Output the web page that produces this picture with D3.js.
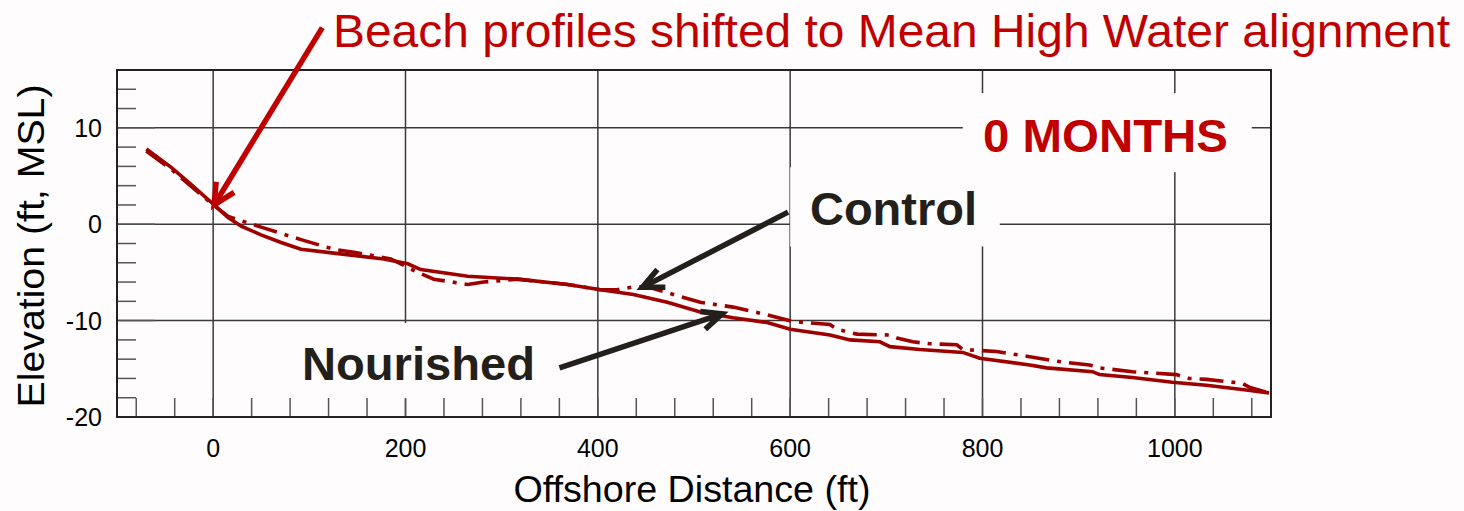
<!DOCTYPE html>
<html>
<head>
<meta charset="utf-8">
<script src="https://cdn.jsdelivr.net/npm/d3@7"></script>
<style>
  body { margin:0; background:#fefcfd; }
  text { font-family: "Liberation Sans", Arial, sans-serif; }
</style>
</head>
<body>
<svg id="chart" width="1464" height="511"></svg>
<script>
// profile data (ft offshore, ft MSL)
var nourishedDist = [-69.5,-43.6,-22.8,0,15.6,29.1,49.8,70.6,91.3,125.6,177.5,202.4,215.9,264.7,316.6,368.5,402.7,437,472.2,506.5,540.7,576,600,641.4,662.2,693.3,703.7,734.8,779.5,797.1,849,866.6,914.4,921.6,955.9,997.4,1032.7,1074.2,1098];
var nourishedElev = [7.8,5.9,4.1,2.1,0.7,-0.2,-1.1,-1.9,-2.6,-3.0,-3.6,-4.1,-4.7,-5.4,-5.7,-6.25,-6.8,-7.3,-8.1,-9.1,-9.7,-10.2,-10.9,-11.5,-12.0,-12.2,-12.7,-13.0,-13.3,-13.9,-14.6,-14.9,-15.3,-15.6,-15.9,-16.4,-16.7,-17.2,-17.5];

var controlDist = [-69.5,-43.6,0,15.6,49.8,91.3,125.6,146.3,184.7,212.8,229.4,264.7,281.3,316.6,368.5,402.7,420.3,437,451.5,472.2,506.5,540.7,576,603,641.4,648.7,669.4,703.7,711,727.6,745.2,773.2,779.5,814.7,849,883.2,911.3,921.6,955.9,1001.6,1015,1032.7,1070,1077.3,1098];
var controlElev = [7.6,5.7,2.0,0.8,-0.3,-1.6,-2.6,-2.9,-3.6,-5.0,-5.7,-6.25,-6.0,-5.7,-6.25,-6.8,-6.8,-6.5,-6.5,-7.1,-8.1,-8.6,-9.4,-10.1,-10.4,-10.9,-11.4,-11.5,-11.8,-12.2,-12.4,-12.5,-13.0,-13.2,-13.75,-14.3,-14.6,-14.9,-15.3,-15.6,-16.0,-16.1,-16.5,-16.9,-17.5];

var xTicks = [0,200,400,600,800,1000];
var yTicks = [-20,-10,0,10];

var W=1464, H=511;
var PLOT={left:117, right:1271, top:70, bottom:417};
var LINE_RED="#9e0000", TEXT_RED="#c00000", DARK="#231f1a";

var svg=d3.select("#chart");

var x=d3.scaleLinear().domain([-100,1100]).range([PLOT.left,PLOT.right]);
var y=d3.scaleLinear().domain([-20,16]).range([PLOT.bottom,PLOT.top]);

svg.append("rect")
    .attr("width",W).attr("height",H)
    .attr("fill","#fefcfd");

// grid
var grid=svg.append("g").attr("class","grid")
    .attr("stroke","#3a3a3a")
    .attr("stroke-width",1.5);

grid.selectAll("line.v")
    .data(xTicks)
    .enter().append("line")
    .attr("class","v")
    .attr("x1",function(d){return x(d);}).attr("x2",function(d){return x(d);})
    .attr("y1",PLOT.top).attr("y2",PLOT.bottom);

grid.selectAll("line.h")
    .data([-10,0,10])
    .enter().append("line")
    .attr("class","h")
    .attr("x1",PLOT.left).attr("x2",PLOT.right)
    .attr("y1",function(d){return y(d);}).attr("y2",function(d){return y(d);});

// white boxes behind the labels (they hide the grid)
var boxes=[
    {x0:779.5, x1:1080, y0:13.6, y1:5.4},
    {x0:600,   x1:818,  y0:5.9,  y1:-2.3},
    {x0:39,    x1:392,  y0:-10.25, y1:-18.1}
];
svg.append("g").selectAll("rect")
    .data(boxes)
    .enter().append("rect")
    .attr("x",function(d){return x(d.x0);})
    .attr("y",function(d){return y(d.y0);})
    .attr("width",function(d){return x(d.x1)-x(d.x0);})
    .attr("height",function(d){return y(d.y1)-y(d.y0);})
    .attr("fill","#fefcfd");

// minor ticks
var ticks=svg.append("g").attr("stroke","#555").attr("stroke-width",1.5);
ticks.selectAll("line.ym")
    .data(d3.range(-18,16,2))
    .enter().append("line")
    .attr("x1",PLOT.left)
    .attr("x2",function(d){return d%10===0 ? PLOT.left+38 : PLOT.left+19;})
    .attr("y1",function(d){return y(d);}).attr("y2",function(d){return y(d);});

ticks.selectAll("line.xm")
    .data(d3.range(-80,1100,40))
    .enter().append("line")
    .attr("x1",function(d){return x(d);}).attr("x2",function(d){return x(d);})
    .attr("y1",PLOT.bottom).attr("y2",PLOT.bottom-19);

// profiles
var line=d3.line()
    .x(function(d){return x(d[0]);})
    .y(function(d){return y(d[1]);});

var nourished=d3.zip(nourishedDist,nourishedElev);
var control=d3.zip(controlDist,controlElev);

svg.append("path")
    .datum(control)
    .attr("d",line)
    .attr("fill","none")
    .attr("stroke",LINE_RED)
    .attr("stroke-width",3.6)
    .attr("stroke-dasharray","24,8,4,8");

svg.append("path")
    .datum(nourished)
    .attr("d",line)
    .attr("fill","none")
    .attr("stroke",LINE_RED)
    .attr("stroke-width",3.6);

// frame
svg.append("rect")
    .attr("x",PLOT.left).attr("y",PLOT.top)
    .attr("width",PLOT.right-PLOT.left)
    .attr("height",PLOT.bottom-PLOT.top)
    .attr("fill","none")
    .attr("stroke","#222")
    .attr("stroke-width",2);

// tick labels
svg.append("g").selectAll("text")
    .data(xTicks)
    .enter().append("text")
    .attr("x",function(d){return x(d);})
    .attr("y",457)
    .attr("text-anchor","middle")
    .attr("font-size",25)
    .attr("fill","#000")
    .text(function(d){return d;});

svg.append("g").selectAll("text")
    .data(yTicks)
    .enter().append("text")
    .attr("x",102)
    .attr("y",function(d){return y(d);})
    .attr("dy","0.36em")
    .attr("text-anchor","end")
    .attr("font-size",25)
    .attr("fill","#000")
    .text(function(d){return d;});

// axis titles
svg.append("text")
    .attr("x",692)
    .attr("y",502)
    .attr("text-anchor","middle")
    .attr("font-size",36)
    .attr("textLength",357)
    .attr("lengthAdjust","spacingAndGlyphs")
    .text("Offshore Distance (ft)");

svg.append("text")
    .attr("transform","translate(44,246) rotate(-90)")
    .attr("text-anchor","middle")
    .attr("font-size",37)
    .attr("textLength",323)
    .attr("lengthAdjust","spacingAndGlyphs")
    .text("Elevation (ft, MSL)");

// annotations
svg.append("text")
    .attr("x",333).attr("y",47)
    .attr("font-size",46)
    .attr("textLength",1117)
    .attr("lengthAdjust","spacingAndGlyphs")
    .attr("fill",TEXT_RED)
    .text("Beach profiles shifted to Mean High Water alignment");

svg.append("text")
    .attr("x",983).attr("y",152)
    .attr("font-size",47)
    .attr("font-weight","bold")
    .attr("textLength",245)
    .attr("lengthAdjust","spacingAndGlyphs")
    .attr("fill",TEXT_RED)
    .text("0 MONTHS");

svg.append("text")
    .attr("x",810).attr("y",225)
    .attr("font-size",47)
    .attr("font-weight","bold")
    .attr("textLength",167)
    .attr("lengthAdjust","spacingAndGlyphs")
    .attr("fill",DARK)
    .text("Control");

svg.append("text")
    .attr("x",302).attr("y",380)
    .attr("font-size",47)
    .attr("font-weight","bold")
    .attr("textLength",233)
    .attr("lengthAdjust","spacingAndGlyphs")
    .attr("fill",DARK)
    .text("Nourished");

// arrows, in data units: tail, tip, two barb ends
var arrows=[
    {tail:[113.5,20.4], tip:[1,2.0],      b1:[3.1,4.4],     b2:[21.8,3.3],   color:"#c00000"},
    {tail:[597.8,1.25], tip:[446.3,-6.55], b1:[461.9,-4.7], b2:[470.2,-6.55], color:DARK},
    {tail:[360.1,-14.9], tip:[529.3,-9.3], b1:[506.5,-9.06], b2:[511.7,-10.9], color:DARK}
];

var ag=svg.append("g").selectAll("g")
    .data(arrows)
    .enter().append("g")
    .attr("fill","none")
    .attr("stroke",function(d){return d.color;})
    .attr("stroke-width",5.5);

ag.append("line")
    .attr("x1",function(d){return x(d.tail[0]);})
    .attr("y1",function(d){return y(d.tail[1]);})
    .attr("x2",function(d){return x(d.tip[0]);})
    .attr("y2",function(d){return y(d.tip[1]);});

ag.append("path")
    .attr("stroke-linejoin","miter")
    .attr("d",function(d){
	return "M"+x(d.b1[0])+","+y(d.b1[1])+
	    "L"+x(d.tip[0])+","+y(d.tip[1])+
	    "L"+x(d.b2[0])+","+y(d.b2[1]);
    });
</script>
</body>
</html>
